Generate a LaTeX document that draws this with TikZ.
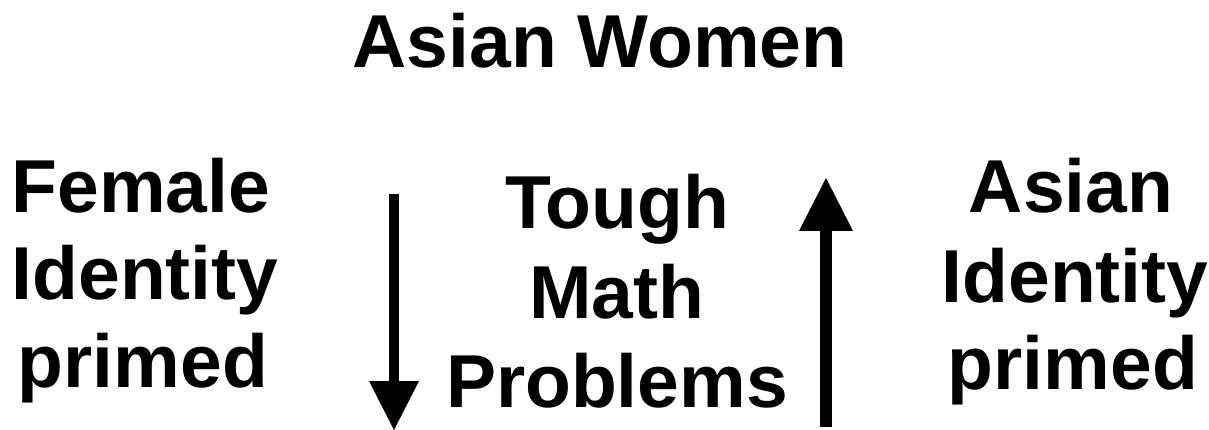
\documentclass[tikz,border=0pt]{standalone}
\usepackage{fontspec}
\setmainfont{Liberation Sans}
\begin{document}
\begin{tikzpicture}[x=1pt,y=-1pt,
  lbl/.style={anchor=base,inner sep=0pt,font=\fontsize{75}{87}\bfseries\selectfont},
  shaft/.style={line width=#1,line cap=butt},
  head/.style={fill=black,draw=none}]
\useasboundingbox (0,0) rectangle (1209,430);
% title
\node[lbl] (title) at (600,68) {Asian Women};
% left
\node[lbl] (l1) at (141,213) {Female};
\node[lbl] (l2) at (145,299) {Identity};
\node[lbl] (l3) at (143,387) {primed};
% middle
\node[lbl] (m1) at (617,229) {Tough};
\node[lbl] (m2) at (617,318) {Math};
\node[lbl] (m3) at (617,407) {Problems};
% right
\node[lbl] (r1) at (1071,213) {Asian};
\node[lbl] (r2) at (1075,302) {Identity};
\node[lbl] (r3) at (1073,389) {primed};
% down arrow
\coordinate (dtop) at (394,194);
\coordinate (dbase) at (394,381);
\coordinate (dtip) at (394,430);
\draw[shaft=10pt] (dtop) -- (dbase);
\fill[head] (dtip) -- ([xshift=-25pt]dbase) -- ([xshift=25pt]dbase) -- cycle;
% up arrow
\coordinate (ubot) at (826,427);
\coordinate (ubase) at (826,231);
\coordinate (utip) at (826,178);
\draw[shaft=12pt] (ubot) -- (ubase);
\fill[head] (utip) -- ([xshift=-27pt]ubase) -- ([xshift=27pt]ubase) -- cycle;
\end{tikzpicture}
\end{document}
